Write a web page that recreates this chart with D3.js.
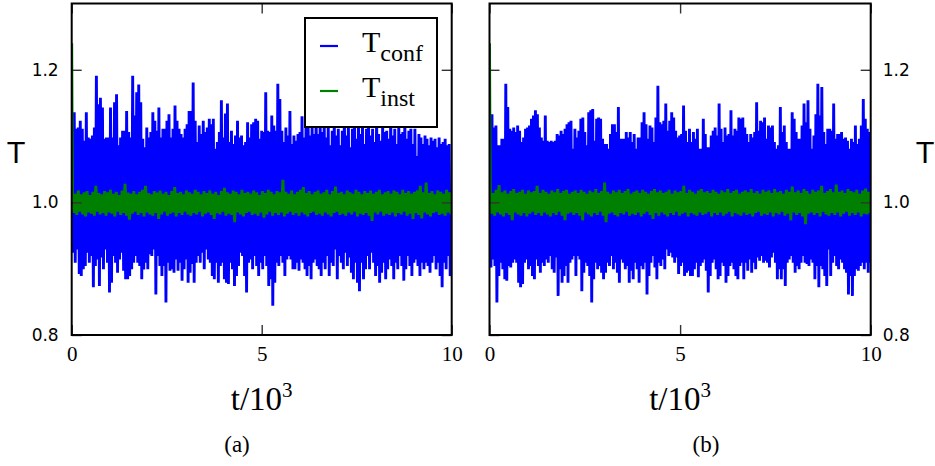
<!DOCTYPE html>
<html>
<head>
<meta charset="utf-8">
<script src="https://cdn.jsdelivr.net/npm/d3@7"></script>
<style>
  body { margin: 0; background: #fff; }
  svg { display: block; }
</style>
</head>
<body>
<svg id="chart" width="935" height="466"></svg>
<script>
// ---- Tick values and labels ----
const xTicks = [0, 5, 10];
const yTicks = [0.8, 1.0, 1.2];
const yTickLabels = ["0.8", "1.0", "1.2"];
const panelCaptions = ["(a)", "(b)"];
const seriesNames = ["conf", "inst"];

// ---- Panel (a): configurational temperature, upper and lower excursions ----
const aConfHi = [
  1.088,1.136,1.111,1.113,1.123,1.111,1.093,1.136,1.098,1.096,1.101,1.113,1.191,1.148,1.158,1.143,1.096,1.098,1.098,1.143,
  1.098,1.151,1.163,1.086,1.098,1.108,1.108,1.138,1.106,1.098,1.191,1.131,1.166,1.178,1.151,1.096,1.083,1.113,1.098,1.106,
  1.136,1.123,1.108,1.143,1.098,1.111,1.111,1.123,1.133,1.098,1.111,1.146,1.123,1.111,1.103,1.098,1.111,1.118,1.138,
  1.138,1.181,1.123,1.091,1.116,1.103,1.123,1.106,1.113,1.126,1.118,1.126,1.081,1.091,1.106,1.154,1.098,1.134,1.149,1.091,
  1.108,1.088,1.101,1.123,1.098,1.101,1.086,1.091,1.121,1.098,1.118,1.121,1.126,1.123,1.096,1.108,1.106,1.166,1.108,1.106,
  1.131,1.116,1.108,1.179,1.156,1.108,1.091,1.113,1.101,1.138,1.088,1.101,1.093,1.103,1.106,1.130,1.098,1.125,1.135,1.101,
  1.120,1.103,1.140,1.103,1.128,
  1.106,1.130,1.098,1.120,1.086,1.108,1.125,1.101,1.111,1.086,1.108,1.140,1.101,1.120,1.083,1.111,1.150,1.096,1.125,1.103,
  1.130,1.088,1.111,1.120,1.101,1.111,1.091,1.135,1.103,1.093,1.120,1.106,1.108,1.096,1.140,1.101,1.111,1.088,1.122,1.103,
  1.106,1.130,1.096,1.108,1.111,1.088,1.111,1.070,1.103,1.098,1.088,1.101,1.096,1.086,1.098,1.093,1.096,1.083,1.098,1.088,
  1.091,1.096,1.086,1.088
];
const aConfLo = [
  0.924,0.909,0.929,0.892,0.889,0.899,0.904,0.924,0.909,0.919,0.872,0.904,0.914,0.874,0.917,0.899,0.929,0.909,0.864,0.879,
  0.919,0.909,0.894,0.914,0.924,0.897,0.884,0.884,0.889,0.899,0.909,0.919,0.909,0.904,0.884,0.899,0.909,0.899,0.922,0.919,
  0.929,0.861,0.919,0.904,0.889,0.904,0.849,0.909,0.897,0.899,0.894,0.914,0.897,0.909,0.882,0.899,0.914,0.879,0.894,0.907,
  0.879,0.909,0.919,0.909,0.924,0.899,0.929,0.914,0.909,0.889,0.884,0.909,0.879,0.904,0.909,0.884,0.879,0.877,0.909,0.899,
  0.874,0.889,0.904,0.924,0.919,0.889,0.864,0.909,0.914,0.899,0.919,0.904,0.889,0.909,0.899,0.919,0.904,0.874,0.884,0.844,
  0.879,0.909,0.904,0.919,0.909,0.889,0.914,0.919,0.914,0.899,0.899,0.909,0.897,0.914,0.909,0.899,0.889,0.904,0.884,0.909,
  0.914,0.904,0.899,0.889,0.909,
  0.899,0.919,0.889,0.909,0.904,0.929,0.884,0.919,0.909,0.899,0.924,0.904,0.917,0.894,0.884,0.909,0.879,0.866,0.909,0.884,
  0.899,0.919,0.899,0.924,0.909,0.889,0.904,0.879,0.894,0.909,0.884,0.899,0.914,0.904,0.884,0.909,0.899,0.919,0.904,0.882,
  0.899,0.919,0.904,0.889,0.909,0.914,0.904,0.889,0.909,0.899,0.909,0.904,0.894,0.909,0.919,0.899,0.909,0.889,0.872,0.909,
  0.899,0.919,0.889,0.899
];
// ---- Panel (a): instantaneous temperature ----
const aInstStart = 1.24;
const aInstHi = [
  1.016,1.013,1.018,1.012,1.015,1.017,1.011,1.016,1.025,1.014,1.012,1.017,1.015,1.019,1.013,1.016,1.011,1.018,1.028,1.015,
  1.013,1.017,1.012,1.016,1.019,1.025,1.014,1.012,1.017,1.015,1.018,1.013,1.016,1.011,1.017,1.023,1.014,1.016,1.012,1.018,
  1.015,1.013,1.019,1.016,1.012,1.017,1.014,1.018,1.013,1.016,1.011,1.017,1.022,1.015,1.013,1.018,1.016,1.012,1.019,1.014,
  1.016,1.013,1.018,1.015,1.011,1.017,1.014,1.019,1.016,1.012,1.017,1.015,1.034,1.016,1.013,1.018,1.012,1.016,1.019,1.023,
  1.014,1.017,1.012,1.016,1.018,1.013,1.015,1.019,1.012,1.017,1.024,1.014,1.016,1.012,1.018,1.015,1.013,1.019,1.016,1.012,
  1.017,1.014,1.018,1.013,1.016,1.019,1.012,1.015,1.017,1.013,1.018,1.016,1.012,1.019,1.014,1.017,1.013,1.016,1.018,1.025,
  1.015,1.030,1.014,1.017,1.012,1.018,1.016,1.013,1.019,1.015
];
const aInstLo = [
  0.984,0.981,0.986,0.982,0.979,0.985,0.983,0.980,0.986,0.982,0.984,0.980,0.985,0.983,0.979,0.986,0.981,0.984,0.980,0.974,
  0.983,0.986,0.981,0.984,0.979,0.985,0.982,0.980,0.984,0.975,0.982,0.986,0.980,0.983,0.985,0.979,0.984,0.981,0.986,0.982,
  0.980,0.984,0.982,0.986,0.979,0.983,0.985,0.981,0.975,0.984,0.982,0.986,0.980,0.983,0.981,0.970,0.985,0.982,0.979,0.984,
  0.986,0.981,0.983,0.980,0.985,0.977,0.982,0.986,0.980,0.984,0.981,0.985,0.979,0.983,0.986,0.981,0.984,0.980,0.985,0.982,
  0.979,0.984,0.986,0.981,0.983,0.980,0.985,0.982,0.979,0.984,0.986,0.981,0.983,0.980,0.985,0.982,0.986,0.979,0.983,0.981,
  0.984,0.980,0.972,0.985,0.982,0.986,0.980,0.983,0.981,0.985,0.979,0.984,0.982,0.986,0.980,0.983,0.975,0.984,0.981,0.976,
  0.985,0.982,0.979,0.984,0.986,0.981,0.983,0.980,0.985,0.982
];

// ---- Panel (b): configurational temperature ----
const bConfHi = [
  1.096,1.133,1.113,1.116,1.086,1.086,1.096,1.096,1.179,1.144,1.111,1.108,1.113,1.106,1.116,1.108,1.091,1.098,1.111,1.113,
  1.116,1.126,1.131,1.139,1.133,1.113,1.098,1.093,1.131,1.093,1.091,1.093,1.091,1.093,1.103,1.101,1.108,1.103,1.111,1.118,
  1.121,1.123,1.081,1.111,1.098,1.108,1.126,1.128,1.106,1.086,1.136,1.139,1.141,1.093,1.126,1.128,1.126,1.096,1.088,1.088,
  1.081,1.103,1.118,
  1.118,1.106,1.144,1.096,1.096,1.096,1.106,1.098,1.106,1.091,1.103,1.081,1.098,1.098,1.121,1.136,1.118,1.096,1.116,1.113,
  1.091,1.128,1.176,1.121,1.118,1.123,1.149,1.108,1.123,1.136,1.128,1.108,1.098,1.101,1.103,1.146,1.108,1.091,1.111,1.091,
  1.106,1.096,1.111,1.081,1.081,1.126,1.103,1.083,1.083,1.101,1.108,1.113,1.101,1.149,1.111,1.091,1.113,1.101,1.103,1.139,
  1.101,1.111,1.108,1.128,1.126,
  1.128,1.113,1.103,1.091,1.103,1.098,1.106,1.151,1.108,1.123,1.121,1.128,1.096,1.116,1.113,1.116,1.091,1.081,1.086,1.144,
  1.106,1.116,1.091,1.081,1.081,1.136,1.126,1.106,1.096,1.096,1.116,1.149,1.121,1.154,1.111,1.081,1.101,1.133,1.179,1.131,
  1.174,1.106,1.088,1.111,1.111,1.108,1.149,1.096,1.103,1.103,1.106,1.096,1.098,1.093,1.081,1.096,1.091,1.116,1.088,1.096,
  1.116,1.156,1.126,1.111,1.106
];
const bConfLo = [
  0.902,0.914,0.904,0.849,0.889,0.909,0.899,0.884,0.882,0.904,0.902,0.909,0.914,0.909,0.879,0.872,0.877,0.909,0.914,0.899,
  0.904,0.889,0.884,0.914,0.904,0.894,0.909,0.904,0.914,0.909,0.919,0.899,0.894,0.917,0.859,0.899,0.879,0.889,0.904,0.879,
  0.909,0.914,0.919,0.889,0.919,0.914,0.866,0.894,0.909,0.904,0.889,0.849,0.884,0.909,0.899,0.904,0.894,0.884,0.894,0.909,
  0.904,0.919,0.899,
  0.909,0.894,0.879,0.914,0.909,0.899,0.904,0.879,0.897,0.884,0.909,0.899,0.879,0.904,0.899,0.909,0.861,0.889,0.909,0.919,
  0.902,0.884,0.909,0.904,0.914,0.899,0.929,0.919,0.924,0.917,0.909,0.917,0.892,0.904,0.909,0.889,0.894,0.897,0.889,0.889,
  0.899,0.909,0.887,0.904,0.909,0.914,0.897,0.864,0.889,0.909,0.914,0.899,0.884,0.889,0.909,0.904,0.879,0.889,0.904,0.909,
  0.899,0.889,0.884,0.904,0.909,
  0.884,0.909,0.897,0.914,0.894,0.909,0.899,0.917,0.912,0.919,0.909,0.912,0.909,0.902,0.917,0.924,0.909,0.884,0.899,0.884,
  0.899,0.874,0.909,0.914,0.919,0.909,0.894,0.904,0.899,0.909,0.919,0.909,0.907,0.904,0.914,0.909,0.884,0.904,0.872,0.904,
  0.899,0.889,0.874,0.929,0.889,0.909,0.919,0.904,0.899,0.914,0.909,0.899,0.894,0.861,0.889,0.859,0.889,0.899,0.897,0.904,
  0.909,0.899,0.909,0.894,0.909
];
// ---- Panel (b): instantaneous temperature ----
const bInstStart = 1.24;
const bInstHi = [
  1.017,1.014,1.019,1.026,1.015,1.018,1.013,1.017,1.020,1.014,1.016,1.019,1.013,1.018,1.015,1.017,1.025,1.014,1.019,1.016,
  1.013,1.018,1.015,1.020,1.014,1.017,1.019,1.013,1.016,1.018,1.014,1.019,1.016,1.013,1.018,1.015,1.020,1.014,1.017,1.030,
  1.016,1.013,1.018,1.015,1.019,1.014,1.017,1.020,1.013,1.016,1.018,1.014,1.019,1.016,1.013,1.017,1.020,1.015,1.018,1.014,
  1.016,1.019,1.013,1.018,1.015,1.017,1.025,1.014,1.019,1.016,1.013,1.018,1.020,1.015,1.017,1.014,1.019,1.016,1.013,1.018,
  1.015,1.020,1.014,1.017,1.019,1.013,1.016,1.018,1.015,1.020,1.014,1.017,1.013,1.019,1.016,1.018,1.014,1.020,1.015,1.017,
  1.013,1.019,1.016,1.024,1.015,1.018,1.014,1.020,1.017,1.013,1.019,1.016,1.018,1.025,1.014,1.017,1.020,1.015,1.027,1.016,
  1.018,1.014,1.020,1.017,1.015,1.019,1.013,1.018,1.021,1.016
];
const bInstLo = [
  0.983,0.980,0.985,0.982,0.979,0.984,0.981,0.973,0.985,0.982,0.980,0.984,0.979,0.983,0.986,0.981,0.984,0.980,0.985,0.982,
  0.979,0.984,0.981,0.986,0.980,0.973,0.983,0.985,0.981,0.984,0.980,0.973,0.985,0.982,0.979,0.984,0.981,0.986,0.980,0.970,
  0.983,0.985,0.981,0.979,0.984,0.982,0.986,0.980,0.983,0.981,0.985,0.979,0.983,0.986,0.981,0.975,0.984,0.980,0.985,0.982,
  0.979,0.984,0.981,0.986,0.980,0.983,0.985,0.979,0.984,0.982,0.980,0.985,0.981,0.983,0.986,0.979,0.984,0.981,0.985,0.980,
  0.983,0.986,0.979,0.984,0.982,0.980,0.985,0.981,0.983,0.979,0.984,0.986,0.980,0.983,0.981,0.985,0.979,0.984,0.982,0.986,
  0.980,0.983,0.973,0.985,0.981,0.984,0.979,0.967,0.983,0.985,0.981,0.984,0.979,0.986,0.982,0.980,0.984,0.981,0.985,0.979,
  0.983,0.986,0.980,0.984,0.981,0.985,0.979,0.983,0.982,0.984
];

// ---- Layout ----
const plotTop = 3.5, plotBottom = 335;
const panels = [
  { left: 71.7, right: 451.7, confHi: aConfHi, confLo: aConfLo, instHi: aInstHi, instLo: aInstLo,
    instStart: aInstStart, labelSide: "left", legend: true, caption: panelCaptions[0], captionX: 237 },
  { left: 489.5, right: 870.7, confHi: bConfHi, confLo: bConfLo, instHi: bInstHi, instLo: bInstLo,
    instStart: bInstStart, labelSide: "right", legend: false, caption: panelCaptions[1], captionX: 706 }
];
const confColor = "#0000ff", instColor = "#008000";
const serif = "'Liberation Serif', 'DejaVu Serif', serif";
const sans = "'DejaVu Sans', 'Liberation Sans', sans-serif";

const svg = d3.select("#chart");
const y = d3.scaleLinear().domain([0.8, 1.3]).range([plotBottom, plotTop]);

// Alternate upper and lower excursions, sampled uniformly in t (units of 10^3)
function buildSeries(hi, lo, start) {
  const vals = [];
  const n = Math.max(hi.length, lo.length);
  for (let i = 0; i < n; i++) {
    if (i < hi.length) vals.push(hi[i]);
    if (i < lo.length) vals.push(lo[i]);
  }
  const pts = vals.map((v, i) => ({ t: 10 * (i + 0.5) / vals.length, v }));
  if (start !== undefined) pts.unshift({ t: 0, v: start });
  return pts;
}

panels.forEach((p, k) => {
  const x = d3.scaleLinear().domain([0, 10]).range([p.left, p.right]);
  const g = svg.append("g");
  const clipId = "clip" + k;
  svg.append("defs").append("clipPath").attr("id", clipId)
    .append("rect").attr("x", p.left).attr("y", plotTop)
    .attr("width", p.right - p.left).attr("height", plotBottom - plotTop);

  const line = d3.line().x(d => x(d.t)).y(d => y(d.v));
  const plot = g.append("g").attr("clip-path", `url(#${clipId})`);
  plot.append("path").datum(buildSeries(p.confHi, p.confLo))
    .attr("d", line).attr("fill", "none").attr("stroke", confColor)
    .attr("stroke-width", 2.9).attr("stroke-linejoin", "bevel");
  plot.append("path").datum(buildSeries(p.instHi, p.instLo, p.instStart))
    .attr("d", line).attr("fill", "none").attr("stroke", instColor)
    .attr("stroke-width", 2.9).attr("stroke-linejoin", "bevel");

  // inward ticks on all four sides
  const tickLen = 10;
  const styleAxis = sel => {
    sel.select(".domain").remove();
    sel.selectAll(".tick line").attr("stroke", "#333").attr("stroke-width", 1.4);
  };
  const bottomAx = g.append("g").attr("transform", `translate(0,${plotBottom})`)
    .call(d3.axisBottom(x).tickValues(xTicks).tickSize(-tickLen).tickPadding(11).tickFormat(d3.format("d")));
  styleAxis(bottomAx);
  bottomAx.selectAll("text").attr("font-family", serif).attr("font-size", 21).attr("fill", "#000");

  const topAx = g.append("g").attr("transform", `translate(0,${plotTop})`)
    .call(d3.axisTop(x).tickValues(xTicks).tickSize(-tickLen).tickFormat(""));
  styleAxis(topAx);

  const fmt = d => yTickLabels[yTicks.indexOf(d)];
  const leftAx = g.append("g").attr("transform", `translate(${p.left},0)`)
    .call(d3.axisLeft(y).tickValues(yTicks).tickSize(-tickLen).tickPadding(13)
      .tickFormat(p.labelSide === "left" ? fmt : ""));
  styleAxis(leftAx);
  const rightAx = g.append("g").attr("transform", `translate(${p.right},0)`)
    .call(d3.axisRight(y).tickValues(yTicks).tickSize(-tickLen).tickPadding(12)
      .tickFormat(p.labelSide === "right" ? fmt : ""));
  styleAxis(rightAx);
  [leftAx, rightAx].forEach(a => a.selectAll("text")
    .attr("font-family", sans).attr("font-size", 17).attr("fill", "#000"));

  // frame
  g.append("rect").attr("x", p.left).attr("y", plotTop)
    .attr("width", p.right - p.left).attr("height", plotBottom - plotTop)
    .attr("fill", "none").attr("stroke", "#000").attr("stroke-width", 2);

  // y-axis title
  g.append("text")
    .attr("x", p.labelSide === "left" ? 16 : 925).attr("y", 163)
    .attr("text-anchor", "middle").attr("font-family", sans).attr("font-size", 28)
    .text("T");

  // x-axis title t/10^3
  const xt = g.append("text").attr("x", (p.left + p.right) / 2).attr("y", 410)
    .attr("text-anchor", "middle").attr("font-family", serif).attr("font-size", 33);
  xt.append("tspan").text("t/10");
  xt.append("tspan").attr("dy", -13).attr("font-size", 21).text("3");

  // caption
  g.append("text").attr("x", p.captionX).attr("y", 452)
    .attr("text-anchor", "middle").attr("font-family", serif).attr("font-size", 23)
    .text(p.caption);

  // legend
  if (p.legend) {
    const lg = g.append("g");
    lg.append("rect").attr("x", 305).attr("y", 18).attr("width", 132).attr("height", 109)
      .attr("fill", "#fff").attr("stroke", "#000").attr("stroke-width", 2);
    const items = [{ name: seriesNames[0], color: confColor, cy: 46, base: 52 },
                   { name: seriesNames[1], color: instColor, cy: 91, base: 97 }];
    items.forEach(it => {
      lg.append("line").attr("x1", 320).attr("x2", 338).attr("y1", it.cy).attr("y2", it.cy)
        .attr("stroke", it.color).attr("stroke-width", 2.2);
      const t = lg.append("text").attr("x", 362).attr("y", it.base)
        .attr("font-family", serif).attr("font-size", 30);
      t.append("tspan").text("T");
      t.append("tspan").attr("dy", 9).attr("font-size", 24).text(it.name);
    });
  }
});
</script>
</body>
</html>
